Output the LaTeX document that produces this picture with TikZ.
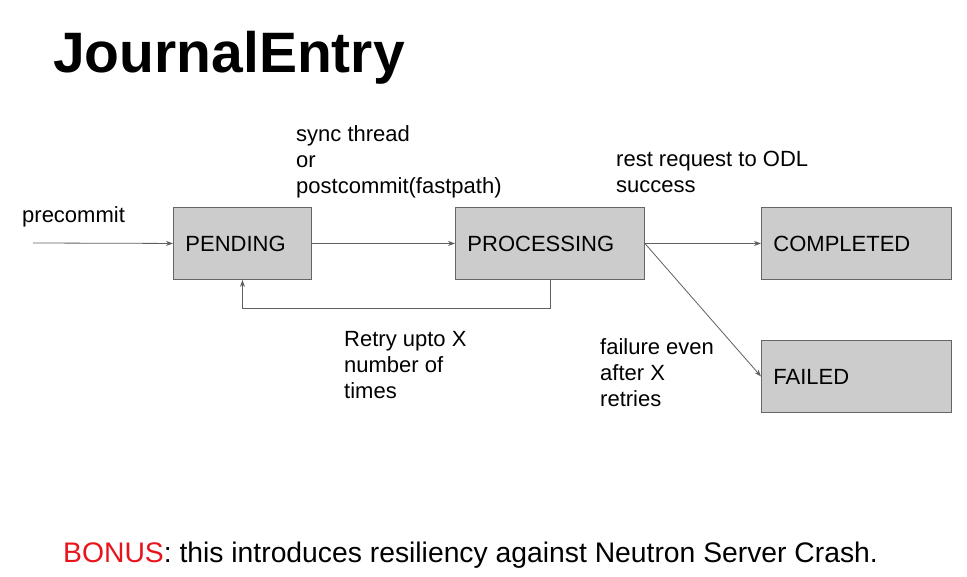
\documentclass[tikz,border=0pt]{standalone}
\usepackage{fontspec}
\setmainfont{Liberation Sans}
\usetikzlibrary{arrows.meta}
\definecolor{boxfill}{HTML}{CCCCCC}
\definecolor{boxline}{HTML}{666666}
\definecolor{arrowgray}{HTML}{5F5F5F}
\definecolor{bonusred}{HTML}{E8141C}
\begin{document}
\begin{tikzpicture}[x=1pt,y=-1pt,
  statebox/.style={draw=boxline, line width=0.9pt, fill=boxfill, minimum width=#1, minimum height=72pt,
    inner sep=0pt, text width=#1-24pt, align=left, font=\fontsize{22}{26}\selectfont, anchor=north west},
  lbl/.style={inner sep=0pt, align=left, font=\fontsize{22}{26}\selectfont, anchor=north west},
  conn/.style={draw=arrowgray, line width=0.8pt, -{Stealth[length=7pt,width=5pt]}}]
\useasboundingbox (0,0) rectangle (967,577);
\node[inner sep=0pt, anchor=base west, font=\fontsize{57}{61}\selectfont\bfseries] (title) at (53,73) {JournalEntry};
\node[statebox=138pt] (pend) at (173,207) {PENDING};
\node[statebox=189pt] (proc) at (455,207) {PROCESSING};
\node[statebox=190pt] (comp) at (761,207) {COMPLETED};
\node[statebox=190pt] (fail) at (761,340) {FAILED};
\coordinate (start) at (33,243);
\draw[conn] (start) -- (pend.west);
\draw[conn] (pend.east) -- (proc.west);
\draw[conn] (proc.east) -- (comp.west);
\draw[conn] (proc.east) -- (fail.west);
\draw[conn] (proc.south) -- ++(0,29) -| (pend.south);
\node[lbl, anchor=base west] (lpre) at (22,223) {precommit};
\node[lbl] (lsync) at (296,125) {sync thread\\or\\postcommit(fastpath)};
\node[lbl] (lrest) at (616,151) {rest request to ODL\\success};
\node[lbl] (lretry) at (344,331) {Retry upto X\\number of\\times};
\node[lbl] (lfail) at (600,338) {failure even\\after X\\retries};
\node[inner sep=0pt, anchor=base west, font=\fontsize{28.3}{32}\selectfont] (bonus) at (63,562) {\textcolor{bonusred}{BONUS}: this introduces resiliency against Neutron Server Crash.};
\end{tikzpicture}
\end{document}
